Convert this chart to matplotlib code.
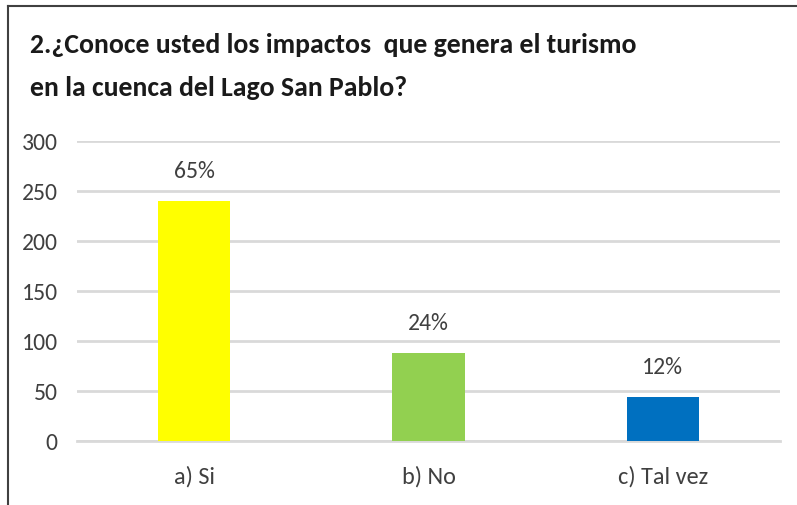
import matplotlib.pyplot as plt
from matplotlib.lines import Line2D

# Data
categories = ['a) Si', 'b) No', 'c) Tal vez']
values = [240, 88, 44]
labels = ['65%', '24%', '12%']
colors = ['#FFFF00', '#92D050', '#0070C0']

plt.rcParams['font.family'] = ['Carlito', 'DejaVu Sans']

fig = plt.figure(figsize=(7.97, 5.06), dpi=100)
ax = fig.add_axes([77 / 797, 1 - 442 / 506, (780 - 77) / 797, 300 / 506])

x = range(len(categories))
ax.bar(x, values, width=0.31, color=colors, zorder=3)

# percentage labels above the bars
for xi, v, lab in zip(x, values, labels):
    ax.text(xi, v + 30, lab, ha='center', va='center', fontsize=17, color='#404040')

ax.set_xlim(-0.5, len(categories) - 0.5)
ax.set_ylim(0, 300)
ax.set_yticks(range(0, 301, 50))
ax.set_xticks(list(x))
ax.set_xticklabels(categories)
ax.tick_params(axis='y', length=0, pad=14, labelsize=17, labelcolor='#404040')
ax.tick_params(axis='x', length=0, pad=17, labelsize=17.5, labelcolor='#404040')
ax.grid(axis='y', color='#D9D9D9', linewidth=2, zorder=0)
for s in ['top', 'right', 'left']:
    ax.spines[s].set_visible(False)
ax.spines['bottom'].set_color('#D9D9D9')
ax.spines['bottom'].set_linewidth(2)

# Title
fig.text(30 / 797, 1 - 45 / 506, '2.¿Conoce usted los impactos  que genera el turismo',
         fontsize=20, fontweight='bold', color='#1a1a1a', va='center')
fig.text(30 / 797, 1 - 88 / 506, 'en la cuenca del Lago San Pablo?',
         fontsize=20, fontweight='bold', color='#1a1a1a', va='center')

# Frame border (top and left)
fig.add_artist(Line2D([8 / 797, 1], [1 - 7 / 506, 1 - 7 / 506], color='#404040', linewidth=1.5))
fig.add_artist(Line2D([8 / 797, 8 / 797], [0, 1 - 7 / 506], color='#404040', linewidth=1.5))

fig.savefig('out.png', dpi=100)
